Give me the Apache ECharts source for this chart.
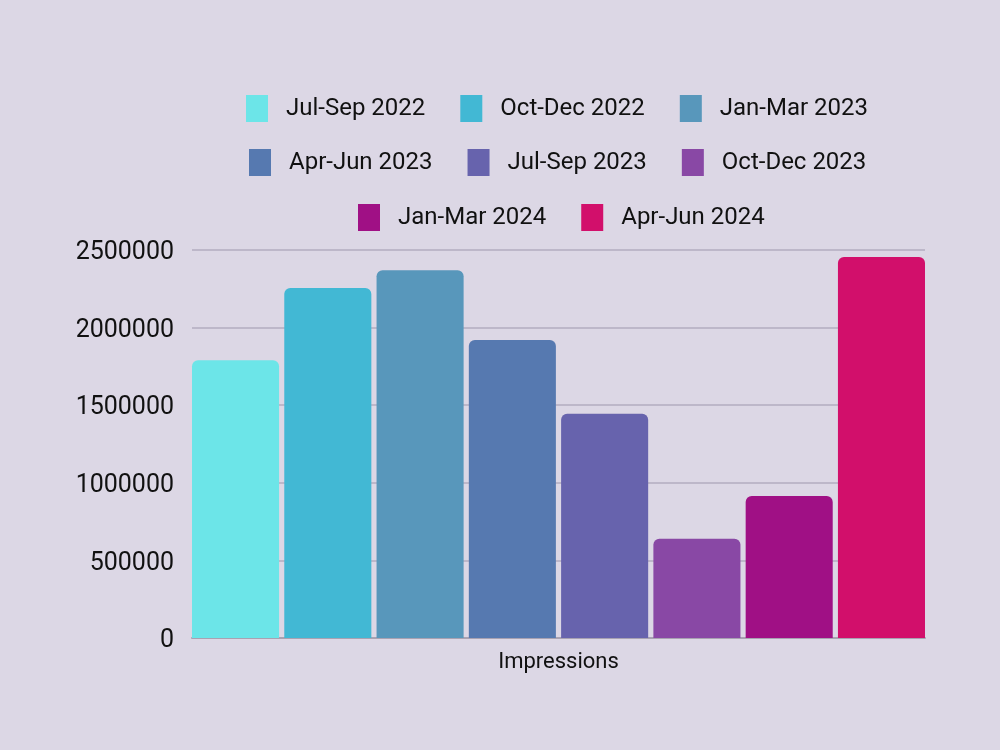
<!DOCTYPE html>
<html>
<head>
<meta charset="utf-8">
<script src="https://cdn.jsdelivr.net/npm/echarts@6/dist/echarts.min.js"></script>
<style>
html,body{margin:0;padding:0;background:#dcd7e5;}
#c{width:1000px;height:750px;}
</style>
</head>
<body>
<div id="c"></div>
<script>
const categories = ['Impressions'];
const seriesNames = ['Jul-Sep 2022','Oct-Dec 2022','Jan-Mar 2023','Apr-Jun 2023','Jul-Sep 2023','Oct-Dec 2023','Jan-Mar 2024','Apr-Jun 2024'];
const seriesValues = [1790000, 2255000, 2370000, 1920000, 1445000, 640000, 915000, 2455000];
const colors = ['#6ce5e8','#42b8d4','#5897bb','#5679b0','#6763ad','#8948a5','#a01085','#d20f6b'];
const yTicks = [0, 500000, 1000000, 1500000, 2000000, 2500000];

const chart = echarts.init(document.getElementById('c'));
const font = 'Roboto';
const legendBase = {
  itemWidth: 22, itemHeight: 27, itemGap: 35, icon: 'rect',
  textStyle: {fontSize: 24, color: '#111', fontFamily: font, padding: [2,0,0,13]}
};
chart.setOption({
  backgroundColor: '#dcd7e5',
  color: colors,
  legend: [
    Object.assign({}, legendBase, {top: 90, left: 241, data: seriesNames.slice(0,3)}),
    Object.assign({}, legendBase, {top: 144, left: 244, data: seriesNames.slice(3,6)}),
    Object.assign({}, legendBase, {top: 199, left: 353, data: seriesNames.slice(6,8)})
  ],
  grid: {left: 192, right: 75, top: 250, bottom: 112, containLabel: false},
  xAxis: {
    type: 'category', data: categories,
    axisLine: {lineStyle: {color: '#a8a2b2', width: 2}},
    axisTick: {show: false},
    axisLabel: {fontSize: 22, color: '#111', fontFamily: font, margin: 13}
  },
  yAxis: {
    type: 'value', min: yTicks[0], max: yTicks[yTicks.length-1], interval: 500000,
    axisLine: {show: false}, axisTick: {show: false},
    axisLabel: {
      color: '#111', margin: 18,
      formatter: v => '{a|' + v + '}',
      rich: {a: {fontSize: 25, color: '#111', fontFamily: font, padding: [6,0,0,0]}}
    },
    splitLine: {lineStyle: {color: '#b3acbf', width: 1.5}}
  },
  series: seriesNames.map((n, i) => ({
    name: n, type: 'bar', data: [seriesValues[i]],
    barGap: '6%', barCategoryGap: '0%',
    itemStyle: {color: colors[i], borderRadius: [6,6,0,0]}
  }))
});
</script>
</body>
</html>
